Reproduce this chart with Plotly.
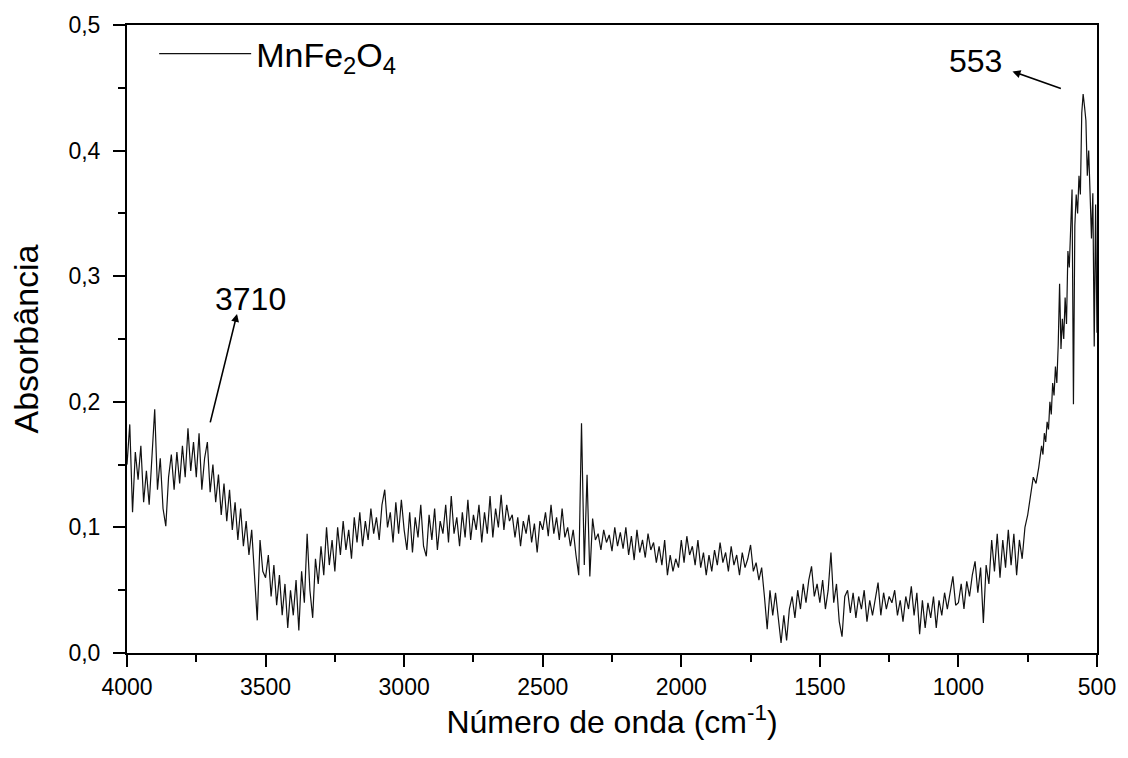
import numpy as np
import plotly.graph_objects as go

# Wavenumber grid (cm-1): 10 cm-1 steps from 4000 to 710, 5 cm-1 steps from 700 to 500
wn_hi = np.arange(4000, 705, -10)
wn_lo = np.arange(700, 499, -5)

abs_4000_3010 = [
    0.150, 0.182, 0.112, 0.160, 0.138, 0.165, 0.120, 0.145, 0.118, 0.160,
    0.194, 0.130, 0.155, 0.115, 0.101, 0.140, 0.158, 0.130, 0.160, 0.135,
    0.165, 0.140, 0.179, 0.145, 0.168, 0.140, 0.175, 0.130, 0.155, 0.168,
    0.128, 0.150, 0.120, 0.142, 0.110, 0.135, 0.105, 0.130, 0.098, 0.120,
    0.090, 0.115, 0.085, 0.105, 0.078, 0.098, 0.060, 0.026, 0.090, 0.065,
    0.060, 0.078, 0.045, 0.070, 0.038, 0.062, 0.030, 0.055, 0.020, 0.050,
    0.030, 0.058, 0.018, 0.065, 0.040, 0.095, 0.050, 0.028, 0.075, 0.055,
    0.085, 0.062, 0.100, 0.070, 0.090, 0.065, 0.100, 0.078, 0.105, 0.082,
    0.098, 0.075, 0.108, 0.088, 0.112, 0.085, 0.105, 0.090, 0.115, 0.095,
    0.108, 0.090, 0.118, 0.130, 0.100, 0.112, 0.088, 0.120, 0.095, 0.122,
]
abs_3000_2010 = [
    0.098, 0.082, 0.112, 0.080, 0.108, 0.092, 0.118, 0.085, 0.077, 0.110,
    0.090, 0.115, 0.082, 0.105, 0.095, 0.118, 0.088, 0.125, 0.095, 0.108,
    0.085, 0.112, 0.092, 0.122, 0.090, 0.110, 0.098, 0.118, 0.088, 0.112,
    0.095, 0.125, 0.092, 0.115, 0.100, 0.126, 0.098, 0.118, 0.105, 0.110,
    0.092, 0.108, 0.085, 0.105, 0.095, 0.110, 0.088, 0.103, 0.080, 0.105,
    0.098, 0.112, 0.093, 0.118, 0.095, 0.108, 0.090, 0.115, 0.092, 0.100,
    0.085, 0.098, 0.078, 0.062, 0.183, 0.070, 0.142, 0.061, 0.107, 0.090,
    0.095, 0.082, 0.098, 0.088, 0.094, 0.081, 0.100, 0.085, 0.096, 0.083,
    0.100, 0.078, 0.093, 0.074, 0.098, 0.080, 0.090, 0.076, 0.095, 0.082,
    0.088, 0.072, 0.085, 0.070, 0.090, 0.062, 0.078, 0.065, 0.075, 0.068,
]
abs_2000_1010 = [
    0.090, 0.072, 0.093, 0.078, 0.085, 0.070, 0.090, 0.068, 0.080, 0.062,
    0.078, 0.065, 0.082, 0.070, 0.088, 0.072, 0.080, 0.065, 0.085, 0.070,
    0.078, 0.062, 0.080, 0.068, 0.075, 0.086, 0.065, 0.072, 0.058, 0.068,
    0.045, 0.019, 0.050, 0.030, 0.048, 0.025, 0.008, 0.030, 0.010, 0.035,
    0.045, 0.028, 0.050, 0.035, 0.055, 0.040, 0.058, 0.069, 0.045, 0.055,
    0.040, 0.058, 0.035, 0.050, 0.080, 0.040, 0.055, 0.025, 0.013, 0.045,
    0.050, 0.032, 0.048, 0.028, 0.045, 0.035, 0.050, 0.025, 0.042, 0.030,
    0.045, 0.056, 0.030, 0.048, 0.035, 0.045, 0.040, 0.050, 0.030, 0.042,
    0.025, 0.045, 0.035, 0.053, 0.030, 0.048, 0.015, 0.042, 0.020, 0.040,
    0.028, 0.045, 0.020, 0.042, 0.030, 0.048, 0.035, 0.050, 0.061, 0.038,
]
abs_1000_710 = [
    0.040, 0.055, 0.035, 0.057, 0.045, 0.062, 0.073, 0.048, 0.068, 0.024,
    0.070, 0.055, 0.090, 0.065, 0.095, 0.060, 0.090, 0.068, 0.098, 0.070,
    0.095, 0.062, 0.090, 0.075, 0.100, 0.110, 0.125, 0.140, 0.135, 0.148,
]
abs_700_500 = [
    0.165, 0.158, 0.175, 0.168, 0.184, 0.178, 0.200, 0.190, 0.215, 0.205,
    0.228, 0.215, 0.245, 0.294, 0.242, 0.266, 0.250, 0.283, 0.262, 0.320,
    0.307, 0.336, 0.369, 0.198, 0.340, 0.365, 0.350, 0.380, 0.365, 0.430,
    0.445, 0.435, 0.424, 0.380, 0.400, 0.366, 0.330, 0.366, 0.244, 0.357,
    0.255,
]

x_tickvals = [4000, 3500, 3000, 2500, 2000, 1500, 1000, 500]
x_ticktext = ["4000", "3500", "3000", "2500", "2000", "1500", "1000", "500"]
y_tickvals = [0.0, 0.1, 0.2, 0.3, 0.4, 0.5]
y_ticktext = ["0,0", "0,1", "0,2", "0,3", "0,4", "0,5"]

wavenumber = np.concatenate([wn_hi, wn_lo])
absorbance = abs_4000_3010 + abs_3000_2010 + abs_2000_1010 + abs_1000_710 + abs_700_500

FONT = "Liberation Sans, Arial, sans-serif"

fig = go.Figure()
fig.add_trace(go.Scatter(
    x=wavenumber, y=absorbance, mode="lines",
    line=dict(color="#111111", width=1.2),
    name="MnFe<sub>2</sub>O<sub>4</sub>",
))

axis_common = dict(
    showgrid=False, zeroline=False, showline=True, linecolor="black", linewidth=2,
    mirror=True, ticks="outside", ticklen=12, tickwidth=1.5, tickcolor="black",
    tickfont=dict(family=FONT, size=23, color="black"),
)

fig.update_xaxes(
    range=[4000, 500], tickvals=x_tickvals, ticktext=x_ticktext,
    minor=dict(ticks="outside", ticklen=7, tickwidth=1.5, tickcolor="black", dtick=250, tick0=500),
    title=dict(text="Número de onda (cm<sup>-1</sup>)", font=dict(family=FONT, size=32, color="black"), standoff=3),
    **axis_common,
)
fig.update_yaxes(
    range=[0, 0.5], tickvals=y_tickvals, ticktext=y_ticktext,
    minor=dict(ticks="outside", ticklen=7, tickwidth=1.5, tickcolor="black", dtick=0.05, tick0=0),
    title=dict(text="Absorbância", font=dict(family=FONT, size=34, color="black"), standoff=20),
    ticklabelstandoff=8,
    **axis_common,
)

ann_font = dict(family=FONT, size=32, color="black")
fig.add_annotation(x=3553, y=0.2815, xref="x", yref="y", text="3710", showarrow=False, font=ann_font)
fig.add_annotation(x=3603, y=0.270, ax=3701, ay=0.1824, xref="x", yref="y", axref="x", ayref="y",
                   text="", showarrow=True, arrowhead=2, arrowsize=1, arrowwidth=1.6, arrowcolor="black")
fig.add_annotation(x=938, y=0.471, xref="x", yref="y", text="553", showarrow=False, font=ann_font)
fig.add_annotation(x=805, y=0.463, ax=625, ay=0.449, xref="x", yref="y", axref="x", ayref="y",
                   text="", showarrow=True, arrowhead=2, arrowsize=1, arrowwidth=1.6, arrowcolor="black")

fig.update_layout(
    width=1128, height=758,
    margin=dict(l=127, r=31, t=22, b=105),
    paper_bgcolor="white", plot_bgcolor="white",
    showlegend=True,
    legend=dict(x=0.028, y=1.0, xanchor="left", yanchor="top", bgcolor="rgba(0,0,0,0)",
                itemwidth=92, font=dict(family=FONT, size=34, color="black")),
)

fig.write_html("out.html")
